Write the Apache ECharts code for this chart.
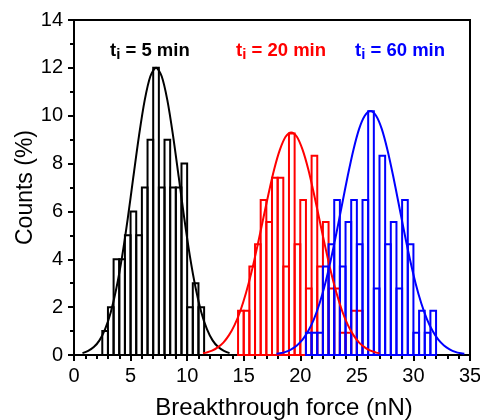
<!DOCTYPE html>
<html>
<head>
<meta charset="utf-8">
<script src="https://cdn.jsdelivr.net/npm/echarts@6/dist/echarts.min.js"></script>
<style>
  html, body { margin: 0; padding: 0; background: #fff; }
  #chart { width: 480px; height: 420px; }
</style>
</head>
<body>
<div id="chart"></div>
<script>
// Histogram bins are 0.5 nN wide; each array holds bin left edges and heights (%).
const binWidth = 0.5;

const bins5 = [2.5, 3, 3.5, 4, 4.5, 5, 5.5, 6, 6.5, 7, 7.5, 8, 8.5, 9, 9.5, 10, 10.5, 11];
const counts5 = [1, 2, 4, 4, 5, 6, 5, 7, 9, 12, 7, 9, 7, 7, 8, 2, 3, 2];

const bins20 = [14.5, 15, 15.5, 16, 16.5, 17, 17.5, 18, 18.5, 19, 19.5, 20, 20.5, 21, 21.5, 22, 22.5, 23, 23.5, 24, 24.5, 25];
const counts20 = [1.85, 1.85, 3.70, 4.63, 6.48, 5.56, 7.41, 7.41, 3.70, 9.26, 4.63, 6.48, 2.78, 8.33, 3.70, 5.56, 2.78, 2.78, 0.93, 0.93, 1.85, 1.85];

const bins60 = [20.5, 21, 21.5, 22, 22.5, 23, 23.5, 24, 24.5, 25, 25.5, 26, 26.5, 27, 27.5, 28, 28.5, 29, 29.5, 30, 30.5, 31, 31.5];
const counts60 = [0.93, 0.93, 0.93, 3.70, 4.63, 6.48, 3.70, 5.56, 6.48, 4.63, 6.48, 10.19, 2.78, 8.33, 4.63, 5.56, 2.78, 6.48, 4.63, 0.93, 1.85, 0.93, 1.85];

// Gaussian fit curves, sampled points (x in nN, y in %).
const fit5X = [0.75, 1.25, 1.75, 2.25, 2.75, 3.25, 3.75, 4.25, 4.75, 5.25, 5.75, 6.25, 6.75, 7.25, 7.75, 8.25, 8.75, 9.25, 9.75, 10.25, 10.75, 11.25, 11.75, 12.25, 12.75, 13.25, 13.75];
const fit5Y = [0.08, 0.17, 0.33, 0.61, 1.08, 1.79, 2.80, 4.11, 5.70, 7.46, 9.18, 10.65, 11.65, 12.0, 11.65, 10.65, 9.18, 7.46, 5.70, 4.11, 2.80, 1.79, 1.08, 0.61, 0.33, 0.17, 0.08];

const fit20X = [11.4, 11.7, 12.2, 12.7, 13.2, 13.7, 14.2, 14.7, 15.2, 15.7, 16.2, 16.7, 17.2, 17.7, 18.2, 18.7, 19.2, 19.7, 20.2, 20.7, 21.2, 21.7, 22.2, 22.7, 23.2, 23.7, 24.2, 24.7, 25.2, 25.7, 26.2, 26.7, 27.0];
const fit20Y = [0.07, 0.10, 0.18, 0.32, 0.52, 0.83, 1.26, 1.84, 2.59, 3.49, 4.53, 5.64, 6.75, 7.77, 8.58, 9.12, 9.30, 9.12, 8.58, 7.77, 6.75, 5.64, 4.53, 3.49, 2.59, 1.84, 1.26, 0.83, 0.52, 0.32, 0.18, 0.10, 0.07];

const fit60X = [17.9, 18.2, 18.7, 19.2, 19.7, 20.2, 20.7, 21.2, 21.7, 22.2, 22.7, 23.2, 23.7, 24.2, 24.7, 25.2, 25.7, 26.2, 26.7, 27.2, 27.7, 28.2, 28.7, 29.2, 29.7, 30.2, 30.7, 31.2, 31.7, 32.2, 32.7, 33.2, 33.7, 34.2, 34.5];
const fit60Y = [0.05, 0.07, 0.13, 0.24, 0.40, 0.64, 1.00, 1.49, 2.15, 2.98, 3.98, 5.11, 6.31, 7.50, 8.58, 9.45, 10.0, 10.2, 10.0, 9.45, 8.58, 7.50, 6.31, 5.11, 3.98, 2.98, 2.15, 1.49, 1.00, 0.64, 0.40, 0.24, 0.13, 0.07, 0.05];

const xTicks = { min: 0, max: 35, step: 5 };
const yTicks = { min: 0, max: 14, step: 2 };

const FONT = '"Liberation Sans", Arial, sans-serif';
const C_BLACK = '#000000', C_RED = '#ff0000', C_BLUE = '#0000ff';

function zip(a, b) { return a.map((v, i) => [v, b[i]]); }

function histSeries(bins, counts, color) {
  return {
    type: 'custom',
    data: zip(bins, counts),
    encode: { x: 0, y: 1 },
    renderItem: function (params, api) {
      const x0 = api.value(0);
      const h = api.value(1);
      const p0 = api.coord([x0, 0]);
      const p1 = api.coord([x0 + binWidth, h]);
      return {
        type: 'rect',
        shape: { x: p0[0], y: p1[1], width: p1[0] - p0[0], height: p0[1] - p1[1] },
        style: { fill: 'none', stroke: color, lineWidth: 2 }
      };
    },
    z: 2
  };
}

function fitSeries(xs, ys, color) {
  return {
    type: 'line',
    data: zip(xs, ys),
    showSymbol: false,
    smooth: 0.3,
    lineStyle: { color: color, width: 2 },
    z: 3
  };
}

function label(num, color, x) {
  return {
    type: 'text',
    left: x, top: 41,
    style: {
      text: '{a|t}{b|i}{a| = ' + num + ' min}',
      rich: {
        a: { fontFamily: FONT, fontWeight: 'bold', fontSize: 18.5, fill: color, verticalAlign: 'bottom' },
        b: { fontFamily: FONT, fontWeight: 'bold', fontSize: 15, fill: color, verticalAlign: 'bottom', padding: [0, 0, -2, 0] }
      }
    }
  };
}

const chart = echarts.init(document.getElementById('chart'), null, { renderer: 'canvas' });
chart.setOption({
  animation: false,
  backgroundColor: '#ffffff',
  grid: {
    left: 74, right: 10, top: 20, bottom: 65,
    containLabel: false, outerBoundsMode: 'none',
    show: true, borderColor: '#000', borderWidth: 2
  },
  xAxis: {
    type: 'value', min: xTicks.min, max: xTicks.max, interval: xTicks.step,
    name: 'Breakthrough force (nN)', nameLocation: 'middle', nameGap: 41, nameMoveOverlap: false,
    nameTextStyle: { fontFamily: FONT, fontSize: 24, color: '#000', padding: [0, 0, 0, 24] },
    axisLine: { show: true, lineStyle: { color: '#000', width: 2 } },
    axisTick: { show: true, inside: false, length: 6, lineStyle: { color: '#000', width: 2 } },
    minorTick: { show: true, splitNumber: 5, length: 4, lineStyle: { color: '#000', width: 2 } },
    axisLabel: { fontFamily: FONT, fontSize: 20, color: '#000', margin: 11 },
    splitLine: { show: false }
  },
  yAxis: {
    type: 'value', min: yTicks.min, max: yTicks.max, interval: yTicks.step,
    name: 'Counts (%)', nameLocation: 'middle', nameGap: 37, nameMoveOverlap: false,
    nameTextStyle: { fontFamily: FONT, fontSize: 23, color: '#000' },
    axisLine: { show: true, lineStyle: { color: '#000', width: 2 } },
    axisTick: { show: true, inside: false, length: 6, lineStyle: { color: '#000', width: 2 } },
    minorTick: { show: true, splitNumber: 2, length: 4, lineStyle: { color: '#000', width: 2 } },
    axisLabel: { fontFamily: FONT, fontSize: 20, color: '#000', margin: 11 },
    splitLine: { show: false }
  },
  graphic: [
    label('5', C_BLACK, 110),
    label('20', C_RED, 236),
    label('60', C_BLUE, 355)
  ],
  series: [
    histSeries(bins5, counts5, C_BLACK),
    fitSeries(fit5X, fit5Y, C_BLACK),
    histSeries(bins20, counts20, C_RED),
    fitSeries(fit20X, fit20Y, C_RED),
    histSeries(bins60, counts60, C_BLUE),
    fitSeries(fit60X, fit60Y, C_BLUE)
  ]
});
</script>
</body>
</html>
